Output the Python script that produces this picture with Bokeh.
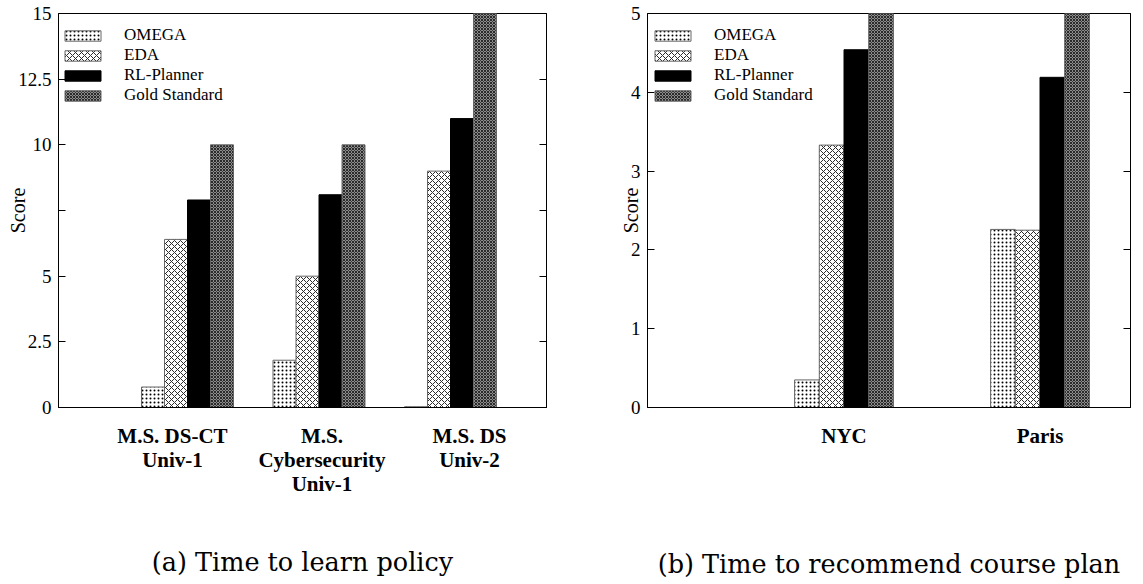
from bokeh.plotting import figure
from bokeh.layouts import row
from bokeh.models import (ColumnDataSource, Legend, LegendItem, LinearAxis, FixedTicker, Range1d)
from bokeh.embed import file_html
from bokeh.resources import INLINE

# ---------------- data ----------------
series = ["OMEGA", "EDA", "RL-Planner", "Gold Standard"]

programs = ["M.S. DS-CT\nUniv-1", "M.S.\nCybersecurity\nUniv-1", "M.S. DS\nUniv-2"]
omega_a = [0.78, 1.8, 0.03]
eda_a = [6.4, 5.0, 9.0]
rl_a = [7.9, 8.1, 11.0]
gold_a = [10.0, 10.0, 15.0]

cities = ["NYC", "Paris"]
omega_b = [0.35, 2.26]
eda_b = [3.33, 2.25]
rl_b = [4.54, 4.19]
gold_b = [5.0, 5.0]

y_ticks_a = [0, 2.5, 5, 7.5, 10, 12.5, 15]
y_tick_labels_a = ["0", "2.5", "5", "", "10", "12.5", "15"]
y_ticks_b = [0, 1, 2, 3, 4, 5]
y_tick_labels_b = ["0", "1", "2", "3", "4", "5"]

captions = ["(a) Time to learn policy", "(b) Time to recommend course plan"]

# ---------------- styles ----------------
SERIF = "Liberation Serif"
styles = [
    dict(fill_color="white", hatch_pattern="dot", hatch_scale=4, hatch_color="black",
         hatch_weight=1.2, line_color="#666666"),
    dict(fill_color="white", hatch_pattern="diagonal_cross", hatch_scale=6, hatch_color="#2a2a2a",
         hatch_weight=1, line_color="#666666"),
    dict(fill_color="black", line_color="black"),
    dict(fill_color="#8c8c8c", hatch_pattern="diagonal_cross", hatch_scale=3, hatch_color="#2a2a2a",
         hatch_weight=1, line_color="#666666"),
]


def make_panel(values, groups, label_pos, yt, ytl, ymax, xr, bar_w, width, mb_left, mb_right,
               caption, cap_standoff, legend_x, minor_n):
    p = figure(width=width, height=581, output_backend="svg", toolbar_location=None,
               x_range=Range1d(*xr), y_range=Range1d(0, ymax),
               min_border_left=mb_left, min_border_right=mb_right, min_border_top=13,
               min_border_bottom=0)
    p.grid.visible = False
    p.outline_line_color = "black"
    p.outline_line_width = 1
    n = len(groups)
    centers = [i + 1 for i in range(n)]
    items = []
    for k, (name, vals) in enumerate(zip(series, values)):
        xs = [c + (k - 1.5) * bar_w for c in centers]
        src = ColumnDataSource(dict(x=xs, top=vals))
        r = p.vbar(x="x", top="top", width=bar_w, bottom=0, source=src, line_width=1, **styles[k])
        items.append(LegendItem(label=name, renderers=[r]))

    # y axis
    yax = p.yaxis[0]
    yax.ticker = FixedTicker(ticks=yt, num_minor_ticks=minor_n)
    yax.major_label_overrides = {float(t): l for t, l in zip(yt, ytl)}
    yax.major_tick_in = 7
    yax.major_tick_out = 0
    yax.minor_tick_in = 4
    yax.minor_tick_out = 0
    yax.major_label_text_font = SERIF
    yax.major_label_text_font_size = "19px"
    yax.major_label_text_color = "black"
    yax.major_label_standoff = 7
    yax.axis_label = "Score"
    yax.axis_label_text_font = SERIF
    yax.axis_label_text_font_size = "20px"
    yax.axis_label_text_font_style = "normal"
    yax.axis_label_text_color = "black"
    yax.axis_label_standoff = -14
    yax.axis_line_color = "black"

    rax = LinearAxis(ticker=FixedTicker(ticks=yt, num_minor_ticks=minor_n),
                     major_tick_in=7, major_tick_out=0, minor_tick_in=4, minor_tick_out=0,
                     major_label_overrides={float(t): "" for t in yt}, major_label_standoff=0,
                     axis_line_color="black")
    p.add_layout(rax, "right")

    # x axis (tick labels = categories, axis label = sub-caption)
    xax = p.xaxis[0]
    xax.ticker = FixedTicker(ticks=label_pos)
    xax.major_label_overrides = {float(t): g for t, g in zip(label_pos, groups)}
    xax.major_tick_line_color = None
    xax.minor_tick_line_color = None
    xax.major_label_text_font = SERIF
    xax.major_label_text_font_style = "bold"
    xax.major_label_text_font_size = "21px"
    xax.major_label_text_line_height = 1.0
    xax.major_label_text_color = "black"
    xax.major_label_standoff = 10
    xax.axis_line_color = "black"
    xax.axis_label = caption
    xax.axis_label_text_font = "DejaVu Serif"
    xax.axis_label_text_font_size = "25.5px"
    xax.axis_label_text_font_style = "normal"
    xax.axis_label_text_color = "black"
    xax.axis_label_standoff = cap_standoff

    legend = Legend(items=items, location=(legend_x, 302), glyph_width=45, glyph_height=13,
                    label_height=13, spacing=0, padding=0, margin=0, label_standoff=19,
                    label_text_font=SERIF, label_text_font_size="17px",
                    label_text_line_height=1.0, label_text_color="black",
                    border_line_color=None, background_fill_alpha=0)
    p.add_layout(legend, "center")
    return p


bw_a = 23 / 131.5
lab_a = [1 - 15 / 131.5, 2 + 3 / 131.5, 3 + 19 / 131.5]
pa = make_panel([omega_a, eda_a, rl_a, gold_a], programs, lab_a, y_ticks_a, y_tick_labels_a, 15,
                (1 - 129 / 131.5, 1 + 359 / 131.5), bw_a, 592, 58, 46, captions[0], 48, 2, 4)

bw_b = 24.7 / 196
lab_b = [1.0, 2.0]
pb = make_panel([omega_b, eda_b, rl_b, gold_b], cities, lab_b, y_ticks_b, y_tick_labels_b, 5,
                (1 - 196.5 / 196, 1 + 286.5 / 196), bw_b, 543, 55, 5, captions[1], 98, 3, 4)

layout = row(pa, pb, spacing=0)
open("out.html", "w").write(file_html(layout, INLINE))
